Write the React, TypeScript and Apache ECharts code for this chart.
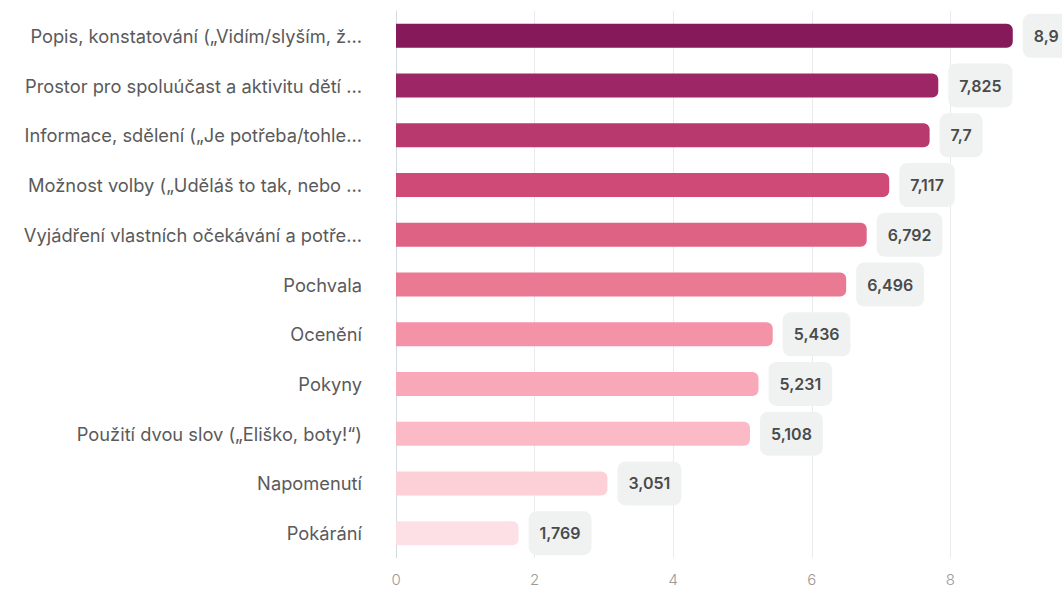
import React, { useEffect, useRef } from "react";
import * as echarts from "echarts";

const categories = [
  "Popis, konstatování („Vidím/slyším, ž...",
  "Prostor pro spoluúčast a aktivitu dětí ...",
  "Informace, sdělení („Je potřeba/tohle...",
  "Možnost volby („Uděláš to tak, nebo ...",
  "Vyjádření vlastních očekávání a potře...",
  "Pochvala",
  "Ocenění",
  "Pokyny",
  "Použití dvou slov („Eliško, boty!“)",
  "Napomenutí",
  "Pokárání",
];

const values = [8.9, 7.825, 7.7, 7.117, 6.792, 6.496, 5.436, 5.231, 5.108, 3.051, 1.769];

const barColors = [
  "#85195a",
  "#9d2766",
  "#b8396e",
  "#cf4a76",
  "#de6283",
  "#ea7994",
  "#f493a8",
  "#f8a8b9",
  "#fbbac6",
  "#fdd0d8",
  "#fde0e5",
];

const xTicks = { min: 0, max: 10, interval: 2 };

export default function App() {
  const ref = useRef<HTMLDivElement>(null);

  useEffect(() => {
    if (!ref.current) return;
    const chart = echarts.init(ref.current, undefined, { renderer: "svg" });
    chart.setOption({
      animation: false,
      backgroundColor: "#ffffff",
      grid: {
        left: 396,
        top: 11,
        bottom: 31,
        right: 21,
        containLabel: false,
        outerBoundsMode: "none",
      },
      xAxis: {
        type: "value",
        min: xTicks.min,
        max: xTicks.max,
        interval: xTicks.interval,
        axisLine: { show: false },
        axisTick: { show: false },
        splitLine: { show: true, lineStyle: { color: "#e8eaed", width: 1 } },
        axisLabel: {
          color: "#9a9a9a",
          fontFamily: "Inter",
          fontSize: 15,
          fontWeight: 300,
          margin: 14,
          showMaxLabel: false,
          formatter: (v: number) => String(v).replace(".", ","),
        },
      },
      yAxis: {
        type: "category",
        data: categories,
        inverse: true,
        axisLine: { show: true, lineStyle: { color: "#d5dae0", width: 1 } },
        axisTick: { show: false },
        axisLabel: {
          color: "#5a5a5a",
          fontFamily: "Inter",
          fontSize: 18.3,
          fontWeight: 400,
          margin: 34,
        },
      },
      series: [
        {
          type: "bar",
          barWidth: 24,
          data: values.map((v, i) => ({
            value: v,
            itemStyle: { color: barColors[i], borderRadius: [0, 6, 6, 0] },
          })),
          label: {
            show: true,
            position: "right",
            distance: 10,
            formatter: (p: any) => String(p.value).replace(".", ","),
            color: "#4a4a4a",
            fontFamily: "Inter",
            fontSize: 16,
            fontWeight: 600,
            backgroundColor: "#f0f2f2",
            borderRadius: 8,
            padding: [14, 11, 14, 11],
          },
        },
      ],
    });
    return () => chart.dispose();
  }, []);

  return (
    <div
      style={{
        position: "fixed",
        left: 0,
        top: 0,
        width: 1062,
        height: 589,
        overflow: "hidden",
        background: "#ffffff",
      }}
    >
      <div ref={ref} style={{ width: 1110, height: 589 }} />
    </div>
  );
}
